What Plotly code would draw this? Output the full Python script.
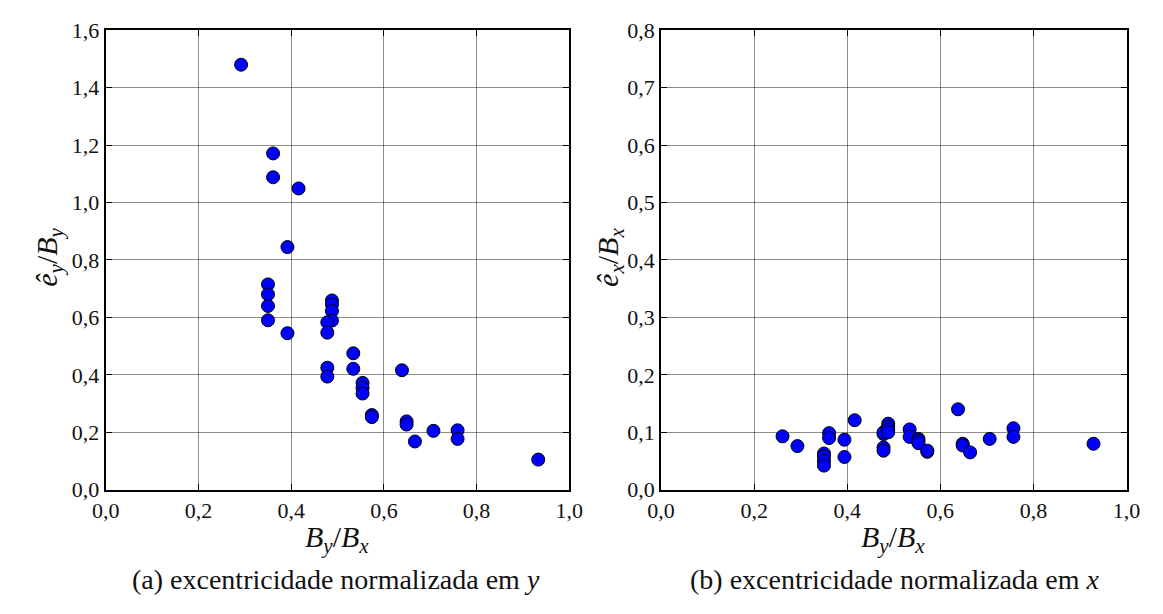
import plotly.graph_objects as go

# Panel (a): normalized eccentricity in y
a_ratio = [0.292, 0.361, 0.361, 0.416, 0.392, 0.350, 0.350, 0.350, 0.350, 0.392,
           0.488, 0.488, 0.488, 0.488, 0.478, 0.478, 0.478, 0.478, 0.534, 0.534,
           0.639, 0.554, 0.554, 0.554, 0.574, 0.574, 0.649, 0.649, 0.667, 0.707,
           0.759, 0.759, 0.933]
a_ecc = [1.480, 1.171, 1.088, 1.049, 0.845, 0.715, 0.680, 0.640, 0.590, 0.545,
         0.659, 0.645, 0.622, 0.589, 0.583, 0.547, 0.425, 0.394, 0.475, 0.421,
         0.416, 0.372, 0.355, 0.335, 0.260, 0.253, 0.238, 0.227, 0.168, 0.205,
         0.207, 0.177, 0.105]

# Panel (b): normalized eccentricity in x
b_ratio = [0.261, 0.293, 0.350, 0.350, 0.350, 0.350, 0.361, 0.361, 0.394, 0.394,
           0.416, 0.478, 0.478, 0.478, 0.478, 0.488, 0.488, 0.488, 0.488, 0.534,
           0.534, 0.553, 0.553, 0.553, 0.572, 0.572, 0.638, 0.648, 0.648, 0.664,
           0.706, 0.757, 0.757, 0.929]
b_ecc = [0.093, 0.076, 0.063, 0.058, 0.050, 0.042, 0.0985, 0.090, 0.087, 0.057,
         0.121, 0.097, 0.100, 0.0735, 0.068, 0.115, 0.110, 0.105, 0.100, 0.105,
         0.092, 0.0885, 0.085, 0.081, 0.066, 0.068, 0.140, 0.080, 0.077, 0.065,
         0.0885, 0.107, 0.092, 0.080]

x_ticks = [0.0, 0.2, 0.4, 0.6, 0.8, 1.0]
x_ticklabels = ["0,0", "0,2", "0,4", "0,6", "0,8", "1,0"]
ya_ticks = [0.0, 0.2, 0.4, 0.6, 0.8, 1.0, 1.2, 1.4, 1.6]
ya_ticklabels = ["0,0", "0,2", "0,4", "0,6", "0,8", "1,0", "1,2", "1,4", "1,6"]
yb_ticks = [0.0, 0.1, 0.2, 0.3, 0.4, 0.5, 0.6, 0.7, 0.8]
yb_ticklabels = ["0,0", "0,1", "0,2", "0,3", "0,4", "0,5", "0,6", "0,7", "0,8"]

FONT = "Liberation Serif, Times New Roman, serif"
W, H = 1163, 614

marker = dict(color="#0000FF", size=13, line=dict(color="black", width=1))

fig = go.Figure()
fig.add_trace(go.Scatter(x=a_ratio, y=a_ecc, mode="markers", marker=marker,
                         xaxis="x", yaxis="y", showlegend=False, cliponaxis=False))
fig.add_trace(go.Scatter(x=b_ratio, y=b_ecc, mode="markers", marker=marker,
                         xaxis="x2", yaxis="y2", showlegend=False, cliponaxis=False))

ydom = [1 - 498 / H, 1 - 19 / H]
common = dict(showline=True, linecolor="black", linewidth=2, mirror="ticks",
              ticks="inside", ticklen=6, tickwidth=1, tickcolor="black",
              showgrid=True, gridcolor="rgba(0,0,0,0.45)", gridwidth=1,
              zeroline=False, tickfont=dict(family=FONT, size=22, color="#111"))

fig.update_layout(
    width=W, height=H,
    margin=dict(l=0, r=0, t=0, b=0),
    paper_bgcolor="white", plot_bgcolor="white",
    font=dict(family=FONT, color="#111"),
    xaxis=dict(domain=[94 / W, 569 / W], range=[0, 1], anchor="y",
               tickvals=x_ticks, ticktext=x_ticklabels, **common),
    yaxis=dict(domain=ydom, range=[0, 1.6], anchor="x",
               tickvals=ya_ticks, ticktext=ya_ticklabels, **common),
    xaxis2=dict(domain=[663 / W, 1140 / W], range=[0, 1], anchor="y2",
                tickvals=x_ticks, ticktext=x_ticklabels, **common),
    yaxis2=dict(domain=ydom, range=[0, 0.8], anchor="x2",
                tickvals=yb_ticks, ticktext=yb_ticklabels, **common),
)

def ann(text, x, y, size, angle=0):
    fig.add_annotation(text=text, x=x / W, y=1 - y / H, xref="paper", yref="paper",
                       showarrow=False, textangle=angle, xanchor="center", yanchor="middle",
                       font=dict(family=FONT, size=size, color="#111"))

xlab = "<i>B</i><sub><i>y</i></sub>/<i>B</i><sub><i>x</i></sub>"
ann(xlab, 331, 549, 30)
ann(xlab, 901, 549, 30)
ann("<i>ê</i><sub><i>y</i></sub>/<i>B</i><sub><i>y</i></sub>", 35, 256, 30, -90)
ann("<i>ê</i><sub><i>x</i></sub>/<i>B</i><sub><i>x</i></sub>", 610, 256, 30, -90)
ann("(a) excentricidade normalizada em <i>y</i>", 330, 592, 28)
ann("(b) excentricidade normalizada em <i>x</i>", 902, 592, 28)

fig.write_html("out.html")
